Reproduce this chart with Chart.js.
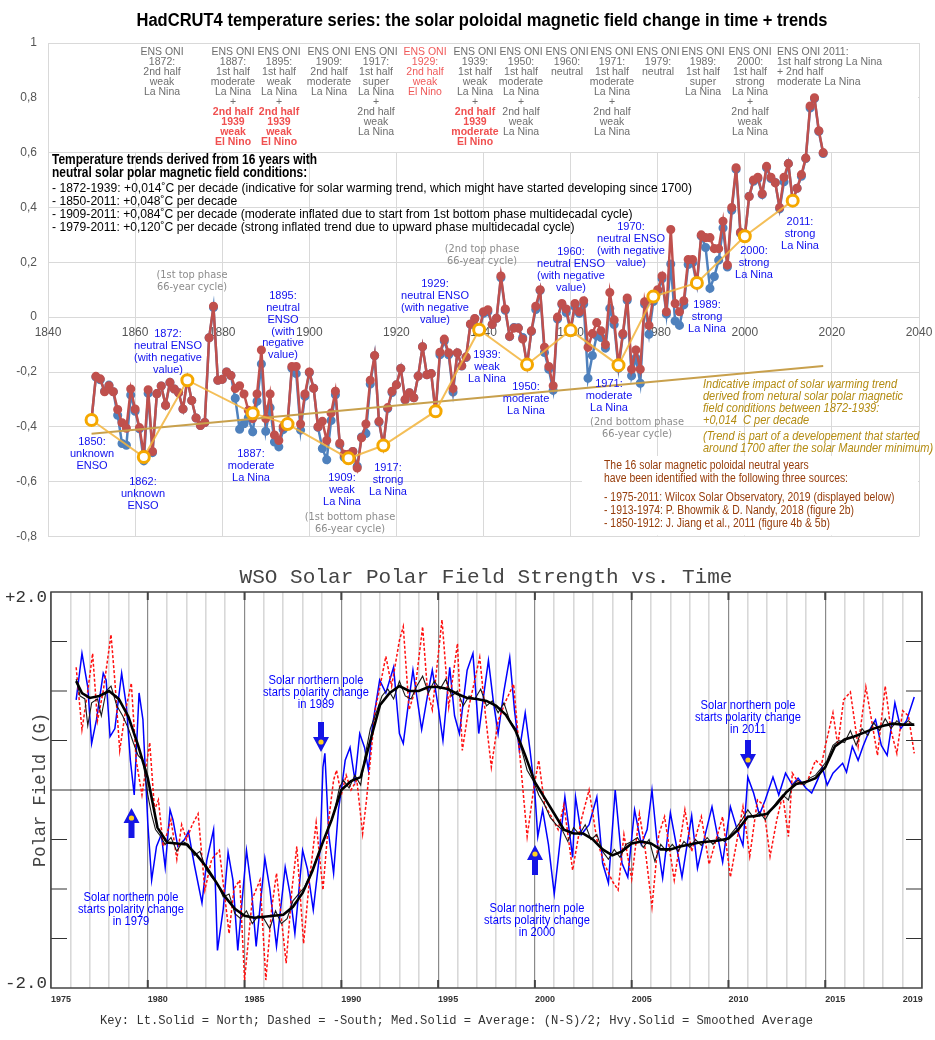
<!DOCTYPE html>
<html>
<head>
<meta charset="utf-8">
<script src="https://cdn.jsdelivr.net/npm/chart.js@4.4.0/dist/chart.umd.min.js"></script>
<style>
html, body { margin: 0; padding: 0; background: #fff; }
canvas { position: absolute; left: 0; }
</style>
</head>
<body>
<canvas id="topChart" width="935" height="545" style="top:0"></canvas>
<canvas id="wsoChart" width="935" height="495" style="top:545px"></canvas>
<script>
// ---- HadCRUT4 annual anomalies (top chart) ----
const years = Array.from({ length: 169 }, (_, i) => 1850 + i);

// blue series (drawn underneath)
const blueVals = [
  -0.373, -0.218, -0.228, -0.269, -0.248, -0.272, -0.358, -0.461, -0.467, -0.284,
  -0.343, -0.407, -0.524, -0.278, -0.494, -0.279, -0.251, -0.321, -0.238, -0.262,
  -0.276, -0.335, -0.227, -0.304, -0.368, -0.395, -0.384, -0.075, 0.035, -0.230,
  -0.227, -0.200, -0.213, -0.296, -0.409, -0.389, -0.367, -0.418, -0.307, -0.171,
  -0.416, -0.330, -0.455, -0.473, -0.410, -0.390, -0.186, -0.206, -0.412, -0.289,
  -0.203, -0.259, -0.402, -0.479, -0.520, -0.377, -0.283, -0.465, -0.511, -0.522,
  -0.490, -0.544, -0.437, -0.424, -0.244, -0.141, -0.383, -0.468, -0.333, -0.275,
  -0.247, -0.187, -0.302, -0.276, -0.294, -0.215, -0.108, -0.210, -0.206, -0.350,
  -0.137, -0.087, -0.137, -0.273, -0.131, -0.178, -0.147, -0.026, -0.006, -0.052,
  0.014, 0.020, -0.027, -0.004, 0.144, 0.025, -0.071, -0.038, -0.039, -0.074,
  -0.173, -0.052, 0.028, 0.097, -0.129, -0.190, -0.267, -0.007, 0.046, 0.017,
  -0.049, 0.038, 0.014, 0.048, -0.223, -0.140, -0.068, -0.074, -0.113, 0.032,
  -0.027, -0.186, -0.065, 0.062, -0.214, -0.149, -0.241, 0.047, -0.062, 0.057,
  0.092, 0.140, 0.011, 0.194, -0.014, -0.030, 0.045, 0.192, 0.198, 0.118,
  0.296, 0.254, 0.105, 0.148, 0.208, 0.325, 0.183, 0.390, 0.539, 0.306,
  0.294, 0.441, 0.496, 0.505, 0.447, 0.545, 0.506, 0.491, 0.395, 0.494,
  0.560, 0.425, 0.470, 0.514, 0.579, 0.763, 0.797, 0.677, 0.597
];

// red series (drawn on top)
const redVals = [
  -0.373, -0.216, -0.225, -0.272, -0.250, -0.272, -0.337, -0.385, -0.405, -0.262,
  -0.335, -0.403, -0.500, -0.265, -0.490, -0.279, -0.251, -0.321, -0.238, -0.262,
  -0.276, -0.335, -0.227, -0.304, -0.368, -0.395, -0.384, -0.075, 0.040, -0.230,
  -0.227, -0.200, -0.213, -0.260, -0.250, -0.280, -0.340, -0.370, -0.280, -0.120,
  -0.370, -0.280, -0.430, -0.450, -0.400, -0.390, -0.180, -0.180, -0.390, -0.280,
  -0.200, -0.259, -0.400, -0.380, -0.450, -0.350, -0.270, -0.460, -0.500, -0.500,
  -0.490, -0.550, -0.440, -0.390, -0.230, -0.140, -0.380, -0.468, -0.330, -0.270,
  -0.247, -0.187, -0.300, -0.276, -0.294, -0.215, -0.108, -0.210, -0.206, -0.345,
  -0.128, -0.080, -0.130, -0.260, -0.130, -0.177, -0.145, -0.025, -0.005, -0.046,
  0.020, 0.027, -0.027, -0.004, 0.150, 0.030, -0.070, -0.040, -0.040, -0.080,
  -0.173, -0.050, 0.040, 0.100, -0.110, -0.180, -0.250, 0.000, 0.050, 0.030,
  -0.045, 0.050, 0.020, 0.060, -0.110, -0.060, -0.020, -0.050, -0.100, 0.090,
  -0.010, -0.175, -0.060, 0.070, -0.190, -0.120, -0.190, 0.056, -0.030, 0.076,
  0.100, 0.150, 0.020, 0.320, 0.050, 0.020, 0.060, 0.210, 0.210, 0.125,
  0.300, 0.290, 0.290, 0.250, 0.250, 0.350, 0.190, 0.400, 0.545, 0.310,
  0.295, 0.440, 0.500, 0.510, 0.450, 0.550, 0.510, 0.490, 0.400, 0.510,
  0.560, 0.425, 0.470, 0.520, 0.580, 0.770, 0.800, 0.680, 0.600
];

// 16 neutral solar polar field years
const neutralYears = [1850, 1862, 1872, 1887, 1895, 1909, 1917, 1929, 1939, 1950, 1960, 1971, 1979, 1989, 2000, 2011];
const neutralVals = [-0.375, -0.51, -0.23, -0.35, -0.39, -0.515, -0.468, -0.343, -0.046, -0.173, -0.048, -0.175, 0.075, 0.125, 0.295, 0.425];

// solar warming trend line (1872-1939 slope extended)
const trendYears = [1850, 2018];
const trendVals = [-0.425, -0.178];

// ---- WSO polar field (bottom chart), [year, gauss] ----
const northField = [
  [1976.3,0.91],[1976.6,1.38],[1976.9,1.04],[1977.1,0.47],[1977.35,0.71],[1977.7,1.18],[1977.85,1.11],[1978.05,0.54],
  [1978.3,0.62],[1978.65,1.18],[1978.9,0.84],[1979.1,0.30],[1979.3,-0.05],[1979.55,0.98],[1979.75,0.71],[1980.0,-0.33],
  [1980.2,-0.91],[1980.45,-0.57],[1980.7,-0.45],[1980.9,-0.78],[1981.15,-0.20],[1981.3,-0.30],[1981.55,-0.57],[1981.9,-0.50],
  [1982.1,-0.42],[1982.4,-0.75],[1982.8,-1.14],[1983.05,-0.71],[1983.4,-0.40],[1983.6,-1.62],[1983.9,-1.20],[1984.15,-0.63],
  [1984.4,-0.91],[1984.65,-1.62],[1985.1,-0.61],[1985.35,-0.99],[1985.6,-1.58],[1986.05,-0.69],[1986.3,-0.99],[1986.65,-1.58],
  [1987.1,-0.78],[1987.35,-1.05],[1987.6,-1.45],[1988.0,-0.61],[1988.25,-0.80],[1988.55,-1.21],[1988.9,-0.61],[1989.05,0.23],
  [1989.15,0.37],[1989.35,-0.45],[1989.6,-0.84],[1989.85,-0.20],[1990.0,0.00],[1990.2,0.30],[1990.45,0.43],[1990.7,0.10],
  [1990.95,0.57],[1991.2,0.43],[1991.4,0.20],[1991.6,0.64],[1991.98,1.11],[1992.3,0.98],[1992.7,1.24],[1993.0,0.57],
  [1993.2,0.47],[1993.45,0.85],[1993.7,1.21],[1994.15,0.61],[1994.45,0.95],[1994.7,1.21],[1995.0,0.85],[1995.25,0.50],
  [1995.6,1.24],[1995.85,0.75],[1996.1,0.57],[1996.5,1.21],[1996.8,1.38],[1997.1,0.57],[1997.35,0.95],[1997.6,1.31],
  [1997.85,0.90],[1998.1,0.57],[1998.4,1.00],[1998.7,1.34],[1998.95,0.80],[1999.2,0.40],[1999.5,0.78],[1999.75,0.40],
  [2000.0,-0.03],[2000.15,-0.47],[2000.4,-0.20],[2000.7,-0.55],[2001.0,-1.05],[2001.2,-0.70],[2001.55,-0.07],[2001.95,-0.68],
  [2002.1,-0.07],[2002.4,-0.45],[2002.8,-0.35],[2003.2,-0.07],[2003.5,-0.74],[2003.8,-0.94],[2004.15,0.00],[2004.5,-0.74],
  [2004.8,-0.88],[2005.15,-0.20],[2005.5,-0.55],[2005.8,-0.40],[2006.05,0.00],[2006.3,-0.50],[2006.6,-0.89],[2007.0,-0.23],
  [2007.3,-0.55],[2007.6,-0.88],[2008.1,-0.26],[2008.4,-0.79],[2008.8,-0.45],[2009.15,-0.17],[2009.7,-0.73],[2010.1,-0.17],
  [2010.45,-0.40],[2010.75,-0.56],[2011.0,0.13],[2011.3,-0.03],[2011.6,-0.25],[2011.9,-0.10],[2012.3,0.13],[2012.6,-0.05],
  [2012.95,0.17],[2013.3,0.05],[2013.6,0.12],[2014.0,0.02],[2014.3,-0.03],[2014.6,0.10],[2014.85,0.23],[2015.1,0.05],
  [2015.4,0.17],[2015.9,0.27],[2016.1,0.18],[2016.4,0.44],[2016.7,0.30],[2016.95,0.44],[2017.3,0.61],[2017.6,0.71],
  [2017.9,0.45],[2018.2,0.35],[2018.6,0.88],[2018.9,0.62],[2019.2,0.70],[2019.6,0.94]
];

const minusSouthField = [
  [1976.3,1.24],[1976.6,0.61],[1976.9,1.00],[1977.15,1.38],[1977.4,0.70],[1977.7,1.00],[1978.1,1.57],[1978.3,1.10],
  [1978.55,0.40],[1978.85,0.80],[1979.15,1.08],[1979.4,0.30],[1979.7,-0.05],[1980.1,0.48],[1980.35,-0.20],[1980.55,-0.10],
  [1980.8,-0.57],[1981.2,-0.30],[1981.5,-0.70],[1981.75,-0.35],[1982.0,-0.50],[1982.3,-0.35],[1982.6,-0.24],[1982.95,-1.01],
  [1983.3,-0.70],[1983.7,-0.61],[1984.2,-1.45],[1984.45,-1.00],[1984.75,-0.91],[1985.0,-1.92],[1985.4,-1.10],[1985.8,-0.91],
  [1986.1,-1.92],[1986.4,-1.20],[1986.65,-0.84],[1987.15,-1.75],[1987.45,-1.00],[1987.7,-0.57],[1988.05,-1.55],[1988.35,-0.91],
  [1988.7,-0.33],[1989.05,-1.01],[1989.35,-0.30],[1989.6,0.10],[1989.75,0.20],[1990.0,-0.05],[1990.25,0.15],[1990.5,0.00],
  [1990.8,0.10],[1991.1,-0.44],[1991.3,-0.10],[1991.75,0.81],[1992.0,1.05],[1992.3,1.35],[1992.6,1.05],[1993.0,1.51],
  [1993.2,1.65],[1993.5,0.81],[1993.8,1.00],[1994.2,1.65],[1994.45,1.00],[1994.7,0.81],[1995.2,1.72],[1995.55,0.84],
  [1996.0,1.48],[1996.25,0.40],[1996.6,0.85],[1997.15,1.34],[1997.45,0.75],[1997.75,0.23],[1998.1,0.70],[1998.5,0.90],
  [1998.9,1.07],[1999.2,0.40],[1999.6,-0.47],[1999.95,0.03],[2000.2,0.30],[2000.5,-0.15],[2000.8,-0.25],[2001.2,-0.40],
  [2001.5,-0.15],[2001.95,-0.81],[2002.4,-0.30],[2002.8,0.00],[2003.2,-0.50],[2003.6,-0.75],[2004.0,-0.92],[2004.3,-1.01],
  [2004.6,-0.45],[2005.0,-0.90],[2005.4,-0.24],[2005.7,-0.60],[2006.05,-1.18],[2006.4,-0.45],[2006.7,-0.27],[2007.2,-0.91],
  [2007.75,-0.20],[2008.1,-0.62],[2008.6,-0.27],[2009.0,-0.75],[2009.7,-0.27],[2010.1,-0.88],[2010.75,-0.17],[2011.1,-0.67],
  [2011.5,-0.10],[2011.8,-0.15],[2012.15,-0.67],[2012.5,-0.30],[2012.8,-0.05],[2013.1,-0.47],[2013.3,0.17],[2013.7,0.05],
  [2014.1,0.10],[2014.5,0.30],[2014.8,0.25],[2015.0,0.44],[2015.4,0.78],[2015.65,0.45],[2015.95,0.91],[2016.3,0.99],
  [2016.7,0.44],[2017.1,1.04],[2017.4,0.70],[2017.7,0.35],[2018.1,1.05],[2018.4,0.60],[2018.7,0.37],[2019.0,0.80],
  [2019.3,0.75],[2019.6,0.37]
];

const averageField = [
  [1976.3,1.12],[1976.5,0.95],[1976.75,0.92],[1976.9,0.65],[1977.1,0.88],[1977.4,0.92],[1977.6,0.75],[1977.85,1.00],
  [1978.1,1.05],[1978.4,0.85],[1978.7,0.75],[1979.0,0.62],[1979.25,0.48],[1979.5,0.35],[1979.75,0.30],[1980.0,-0.05],
  [1980.2,-0.25],[1980.4,-0.40],[1980.6,-0.45],[1980.9,-0.55],[1981.2,-0.48],[1981.5,-0.62],[1981.8,-0.52],[1982.1,-0.55],
  [1982.4,-0.66],[1982.7,-0.62],[1983.0,-0.80],[1983.3,-0.88],[1983.6,-0.95],[1983.9,-1.08],[1984.2,-1.05],[1984.5,-1.25],
  [1984.8,-1.30],[1985.1,-1.22],[1985.4,-1.35],[1985.7,-1.27],[1986.0,-1.30],[1986.3,-1.40],[1986.6,-1.22],[1986.9,-1.35],
  [1987.2,-1.30],[1987.5,-1.12],[1987.8,-1.05],[1988.1,-0.98],[1988.4,-0.85],[1988.7,-0.70],[1989.0,-0.55],[1989.3,-0.40],
  [1989.6,-0.25],[1989.9,0.02],[1990.1,0.10],[1990.4,0.02],[1990.7,0.15],[1991.0,0.05],[1991.2,0.32],[1991.5,0.62],
  [1991.8,0.78],[1992.1,0.95],[1992.4,1.02],[1992.7,0.92],[1993.0,1.10],[1993.3,0.95],[1993.6,0.92],[1993.9,1.05],
  [1994.2,1.15],[1994.5,0.98],[1994.8,1.10],[1995.1,1.02],[1995.4,1.12],[1995.7,0.95],[1996.0,1.00],[1996.3,0.85],
  [1996.6,0.95],[1996.9,0.92],[1997.2,1.02],[1997.5,0.85],[1997.8,0.90],[1998.1,0.78],[1998.4,0.88],[1998.7,0.70],
  [1999.0,0.62],[1999.3,0.42],[1999.6,0.20],[1999.9,0.10],[2000.2,-0.05],[2000.5,-0.15],[2000.8,-0.28],[2001.1,-0.35],
  [2001.4,-0.40],[2001.7,-0.52],[2002.0,-0.38],[2002.3,-0.45],[2002.6,-0.35],[2002.9,-0.50],[2003.2,-0.45],[2003.5,-0.62],
  [2003.8,-0.70],[2004.1,-0.60],[2004.4,-0.68],[2004.7,-0.55],[2005.0,-0.52],[2005.3,-0.48],[2005.6,-0.58],[2005.9,-0.50],
  [2006.2,-0.72],[2006.5,-0.55],[2006.8,-0.62],[2007.1,-0.55],[2007.4,-0.62],[2007.7,-0.52],[2008.0,-0.58],[2008.3,-0.50],
  [2008.6,-0.56],[2008.9,-0.48],[2009.2,-0.55],[2009.5,-0.48],[2009.8,-0.52],[2010.1,-0.45],[2010.4,-0.38],[2010.7,-0.30],
  [2011.0,-0.20],[2011.3,-0.28],[2011.6,-0.22],[2011.9,-0.30],[2012.2,-0.20],[2012.5,-0.12],[2012.8,-0.05],[2013.1,-0.10],
  [2013.3,0.05],[2013.6,0.10],[2013.9,0.05],[2014.2,0.12],[2014.5,0.15],[2014.8,0.22],[2015.1,0.30],[2015.4,0.45],
  [2015.7,0.50],[2016.0,0.48],[2016.3,0.60],[2016.6,0.45],[2016.9,0.62],[2017.2,0.55],[2017.5,0.68],[2017.8,0.60],
  [2018.1,0.72],[2018.4,0.62],[2018.7,0.70],[2019.0,0.65],[2019.3,0.70],[2019.6,0.65]
];

const smoothedField = [
  [1976.3,1.10],[1976.6,0.98],[1977.0,0.93],[1977.5,0.95],[1978.0,1.00],[1978.5,0.92],[1979.0,0.74],[1979.5,0.45],
  [1980.0,0.12],[1980.5,-0.38],[1981.0,-0.53],[1981.5,-0.54],[1982.0,-0.55],[1982.5,-0.65],[1983.0,-0.77],[1983.5,-0.92],
  [1984.0,-1.08],[1984.5,-1.20],[1985.0,-1.27],[1985.5,-1.29],[1986.0,-1.28],[1986.5,-1.27],[1987.0,-1.26],[1987.5,-1.18],
  [1988.0,-1.04],[1988.5,-0.82],[1989.0,-0.55],[1989.5,-0.30],[1990.0,0.00],[1990.5,0.09],[1991.0,0.13],[1991.5,0.50],
  [1992.0,0.86],[1992.5,0.98],[1993.0,1.05],[1993.5,1.00],[1994.0,1.00],[1994.5,1.04],[1995.0,1.04],[1995.5,1.02],
  [1996.0,0.97],[1996.5,0.93],[1997.0,0.92],[1997.5,0.90],[1998.0,0.85],[1998.5,0.76],[1999.0,0.60],[1999.5,0.35],
  [2000.0,0.08],[2000.5,-0.08],[2001.0,-0.24],[2001.5,-0.40],[2002.0,-0.44],[2002.5,-0.44],[2003.0,-0.50],[2003.5,-0.60],
  [2004.0,-0.66],[2004.5,-0.62],[2005.0,-0.54],[2005.5,-0.52],[2006.0,-0.54],[2006.5,-0.60],[2007.0,-0.60],[2007.5,-0.57],
  [2008.0,-0.55],[2008.5,-0.53],[2009.0,-0.52],[2009.5,-0.51],[2010.0,-0.49],[2010.5,-0.40],[2011.0,-0.27],[2011.5,-0.26],
  [2012.0,-0.24],[2012.5,-0.14],[2013.0,-0.02],[2013.5,0.06],[2014.0,0.08],[2014.5,0.12],[2015.0,0.23],[2015.5,0.44],
  [2016.0,0.51],[2016.5,0.54],[2017.0,0.58],[2017.5,0.62],[2018.0,0.65],[2018.5,0.67],[2019.0,0.66],[2019.6,0.66]
];

const wsoTickYears = [1975, 1980, 1985, 1990, 1995, 2000, 2005, 2010, 2015, 2019];

Chart.defaults.font.family = '"Liberation Sans", Arial, sans-serif';

// draw a block of lines, squeezed horizontally by sx
function drawLines(ctx, lines, x, y, lh, font, color, align, sx) {
  ctx.save();
  ctx.font = font;
  ctx.fillStyle = color;
  ctx.textAlign = align || 'left';
  ctx.textBaseline = 'middle';
  lines.forEach((s, i) => {
    ctx.save();
    ctx.translate(x, y + i * lh);
    ctx.scale(sx || 1, 1);
    ctx.fillText(s, 0, 0);
    ctx.restore();
  });
  ctx.restore();
}

function fitScale(ctx, font, s, w) {
  ctx.save();
  ctx.font = font;
  const m = ctx.measureText(s).width;
  ctx.restore();
  return w / m;
}

const ensCols = [
  { x: 162, c: 'g', lines: ['ENS ONI', '1872:', '2nd half', 'weak', 'La Nina'], red: [] },
  { x: 233, c: 'g', lines: ['ENS ONI', '1887:', '1st half', 'moderate', 'La Nina', '+'], red: ['2nd half', '1939', 'weak', 'El Nino'] },
  { x: 279, c: 'g', lines: ['ENS ONI', '1895:', '1st half', 'weak', 'La Nina', '+'], red: ['2nd half', '1939', 'weak', 'El Nino'] },
  { x: 329, c: 'g', lines: ['ENS ONI', '1909:', '2nd half', 'moderate', 'La Nina'], red: [] },
  { x: 376, c: 'g', lines: ['ENS ONI', '1917:', '1st half', 'super', 'La Nina', '+', '2nd half', 'weak', 'La Nina'], red: [] },
  { x: 425, c: 'r', lines: ['ENS ONI', '1929:', '2nd half', 'weak', 'El Nino'], red: [] },
  { x: 475, c: 'g', lines: ['ENS ONI', '1939:', '1st half', 'weak', 'La Nina', '+'], red: ['2nd half', '1939', 'moderate', 'El Nino'] },
  { x: 521, c: 'g', lines: ['ENS ONI', '1950:', '1st half', 'moderate', 'La Nina', '+', '2nd half', 'weak', 'La Nina'], red: [] },
  { x: 567, c: 'g', lines: ['ENS ONI', '1960:', 'neutral'], red: [] },
  { x: 612, c: 'g', lines: ['ENS ONI', '1971:', '1st half', 'moderate', 'La Nina', '+', '2nd half', 'weak', 'La Nina'], red: [] },
  { x: 658, c: 'g', lines: ['ENS ONI', '1979:', 'neutral'], red: [] },
  { x: 703, c: 'g', lines: ['ENS ONI', '1989:', '1st half', 'super', 'La Nina'], red: [] },
  { x: 750, c: 'g', lines: ['ENS ONI', '2000:', '1st half', 'strong', 'La Nina', '+', '2nd half', 'weak', 'La Nina'], red: [] }
];

const blueLabels = [
  [92, 442, ['1850:', 'unknown', 'ENSO']],
  [143, 482, ['1862:', 'unknown', 'ENSO']],
  [168, 334, ['1872:', 'neutral ENSO', '(with negative', 'value)']],
  [251, 454, ['1887:', 'moderate', 'La Nina']],
  [283, 296, ['1895:', 'neutral', 'ENSO', '(with', 'negative', 'value)']],
  [342, 478, ['1909:', 'weak', 'La Nina']],
  [388, 468, ['1917:', 'strong', 'La Nina']],
  [435, 284, ['1929:', 'neutral ENSO', '(with negative', 'value)']],
  [487, 355, ['1939:', 'weak', 'La Nina']],
  [526, 387, ['1950:', 'moderate', 'La Nina']],
  [571, 252, ['1960:', 'neutral ENSO', '(with negative', 'value)']],
  [631, 227, ['1970:', 'neutral ENSO', '(with negative', 'value)']],
  [609, 384, ['1971:', 'moderate', 'La Nina']],
  [707, 305, ['1989:', 'strong', 'La Nina']],
  [754, 251, ['2000:', 'strong', 'La Nina']],
  [800, 222, ['2011:', 'strong', 'La Nina']]
];

const grayLabels = [
  [192, 275, ['(1st top phase', '66-year cycle)']],
  [482, 249, ['(2nd top phase', '66-year cycle)']],
  [350, 517, ['(1st bottom phase', '66-year cycle)']],
  [637, 422, ['(2nd bottom phase', '66-year cycle)']]
];

const topDecor = {
  id: 'topDecor',
  beforeDatasetsDraw(chart) {
    const ctx = chart.ctx, a = chart.chartArea;
    ctx.save();
    ctx.fillStyle = '#fff';
    ctx.fillRect(a.left + 1, a.top + 1, a.right - a.left - 2, 108);
    ctx.fillRect(582, 456, a.right - 1 - 582, a.bottom - 1 - 456);
    ctx.restore();
  },
  afterDatasetsDraw(chart) {
    const ctx = chart.ctx;

    // ENSO ONI columns
    const gFont = '10.5px "Liberation Sans", Arial, sans-serif';
    const rFont = 'bold 10.5px "Liberation Sans", Arial, sans-serif';
    ensCols.forEach(col => {
      const color = col.c === 'r' ? '#f05a5a' : '#6e6e6e';
      drawLines(ctx, col.lines, col.x, 52, 10, gFont, color, 'center');
      drawLines(ctx, col.red, col.x, 52 + col.lines.length * 10, 10, rFont, '#f05050', 'center');
    });
    drawLines(ctx, ['ENS ONI 2011:', '1st half strong La Nina', '+ 2nd half', 'moderate La Nina'], 777, 52, 10, gFont, '#6e6e6e', 'left');

    // trend box
    const bFont = 'bold 14px "Liberation Sans", Arial, sans-serif';
    const bsx = fitScale(ctx, bFont, 'Temperature trends derived from 16 years with', 265);
    drawLines(ctx, ['Temperature trends derived from 16 years with', 'neutral solar polar magnetic field conditions:'], 52, 160, 13, bFont, '#000', 'left', bsx);
    const tFont = '13px "Liberation Sans", Arial, sans-serif';
    const trendLines = [
      '- 1872-1939: +0,014˚C per decade (indicative for solar warming trend, which might have started developing since 1700)',
      '- 1850-2011: +0,048˚C per decade',
      '- 1909-2011: +0,084˚C per decade (moderate inflated due to start from 1st bottom phase multidecadal cycle)',
      '- 1979-2011: +0,120˚C per decade (strong inflated trend due to upward phase multidecadal cycle)'
    ];
    const tsx = fitScale(ctx, tFont, trendLines[0], 640);
    drawLines(ctx, trendLines, 52, 188, 13, tFont, '#000', 'left', tsx);

    // blue ENSO labels
    const lFont = '11.5px "Liberation Sans", Arial, sans-serif';
    const lsx = fitScale(ctx, lFont, 'neutral ENSO', 68);
    blueLabels.forEach(([x, y, lines]) => drawLines(ctx, lines, x, y, 11.8, lFont, '#1010ee', 'center', lsx));

    // gray cycle labels
    const gyFont = '11px "DejaVu Sans", sans-serif';
    const gsx = fitScale(ctx, gyFont, '(1st top phase', 71);
    grayLabels.forEach(([x, y, lines]) => drawLines(ctx, lines, x, y, 12.5, gyFont, '#8c8c8c', 'center', gsx));

    // goldenrod italic note
    const iFont = 'italic 12.5px "Liberation Sans", Arial, sans-serif';
    const isx = fitScale(ctx, iFont, 'Indicative impact of solar warming trend', 194);
    drawLines(ctx, ['Indicative impact of solar warming trend', 'derived from netural solar polar magnetic',
      'field conditions between 1872-1939:', '+0,014  C per decade'], 703, 385, 12, iFont, '#b38b12', 'left', isx);
    drawLines(ctx, ['(Trend is part of a developement that started', 'around 1700 after the solar Maunder minimum)'],
      703, 437, 11.5, iFont, '#b38b12', 'left', isx);

    // brown sources note
    const sFont = '12px "Liberation Sans", Arial, sans-serif';
    const ssx = fitScale(ctx, sFont, 'have been identified with the following three sources:', 244);
    drawLines(ctx, ['The 16 solar magnetic poloidal neutral years', 'have been identified with the following three sources:'],
      604, 466, 13, sFont, '#963c0a', 'left', ssx);
    drawLines(ctx, ['- 1975-2011: Wilcox Solar Observatory, 2019 (displayed below)', '- 1913-1974: P. Bhowmik & D. Nandy, 2018 (figure 2b)',
      '- 1850-1912: J. Jiang et al., 2011 (figure 4b & 5b)'], 604, 498, 13, sFont, '#963c0a', 'left', ssx);
  },
  afterDraw(chart) {
    const ctx = chart.ctx;
    const f = 'bold 18px "Liberation Sans", Arial, sans-serif';
    const title = 'HadCRUT4 temperature series: the solar poloidal magnetic field change in time + trends';
    drawLines(ctx, [title], 482, 21, 0, f, '#000', 'center', fitScale(ctx, f, title, 691));
  }
};

new Chart(document.getElementById('topChart'), {
  type: 'line',
  data: {
    datasets: [
      {
        data: neutralYears.map((x, i) => ({ x, y: neutralVals[i] })),
        borderColor: 'rgba(242,180,60,0.85)', borderWidth: 2,
        pointRadius: 5.5, pointBorderWidth: 3, pointBorderColor: '#f5a800', pointBackgroundColor: '#fff',
        order: 0
      },
      {
        data: trendYears.map((x, i) => ({ x, y: trendVals[i] })),
        borderColor: '#c8a04c', borderWidth: 2, pointRadius: 0, order: 1
      },
      {
        data: years.map((x, i) => ({ x, y: redVals[i] })),
        borderColor: '#c0504d', backgroundColor: '#c0504d', pointBackgroundColor: '#c0504d', pointBorderColor: '#c0504d',
        borderWidth: 2.5, pointRadius: 3.3, order: 2
      },
      {
        data: years.map((x, i) => ({ x, y: blueVals[i] })),
        borderColor: '#4f81bd', backgroundColor: '#4f81bd', pointBackgroundColor: '#4f81bd', pointBorderColor: '#4f81bd',
        borderWidth: 2.5, pointRadius: 3.3, order: 3
      }
    ]
  },
  options: {
    responsive: false,
    animation: false,
    layout: { padding: { left: 0, right: 16, top: 43, bottom: 7 } },
    plugins: { legend: { display: false }, tooltip: { enabled: false } },
    scales: {
      x: {
        type: 'linear', min: 1840, max: 2040, position: { y: 0 },
        ticks: { stepSize: 20, padding: 8, color: '#555', font: { size: 12 }, maxRotation: 0, callback: v => String(v) },
        grid: { color: '#d9d9d9', drawTicks: false },
        border: { display: false },
        afterFit: s => { s.height = 0; s.paddingLeft = 0; s.paddingRight = 0; }
      },
      y: {
        min: -0.8, max: 1,
        ticks: {
          stepSize: 0.2, padding: 11, color: '#555', font: { size: 12 },
          callback: v => { const r = Math.round(v * 10) / 10; return r === 0 ? '0' : String(r).replace('.', ','); }
        },
        grid: { color: '#d9d9d9', drawTicks: false },
        border: { display: false },
        afterFit: s => { s.width = 48; s.paddingTop = 0; s.paddingBottom = 0; }
      }
    }
  },
  plugins: [topDecor]
});

// ---- bottom chart ----
function arrow(ctx, x, yTip, yTail, yDot) {
  const dir = yTip > yTail ? 1 : -1;
  const headLen = 15, headW = 8, shaft = 3;
  const yBase = yTip - dir * headLen;
  ctx.save();
  ctx.fillStyle = '#1515e6';
  ctx.beginPath();
  ctx.moveTo(x - shaft, yTail);
  ctx.lineTo(x + shaft, yTail);
  ctx.lineTo(x + shaft, yBase);
  ctx.lineTo(x + headW, yBase);
  ctx.lineTo(x, yTip);
  ctx.lineTo(x - headW, yBase);
  ctx.lineTo(x - shaft, yBase);
  ctx.closePath();
  ctx.fill();
  ctx.beginPath();
  ctx.arc(x, yDot, 2.6, 0, Math.PI * 2);
  ctx.fillStyle = '#ffd21e';
  ctx.fill();
  ctx.restore();
}

const wsoDecor = {
  id: 'wsoDecor',
  beforeDatasetsDraw(chart) {
    const ctx = chart.ctx, a = chart.chartArea, xs = chart.scales.x, ys = chart.scales.y;
    ctx.save();
    ctx.strokeStyle = '#333';
    ctx.lineWidth = 1.2;
    const y0 = ys.getPixelForValue(0);
    ctx.beginPath();
    ctx.moveTo(a.left, y0); ctx.lineTo(a.right, y0);
    [-1.5, -1, -0.5, 0.5, 1, 1.5].forEach(v => {
      const y = ys.getPixelForValue(v);
      ctx.moveTo(a.left, y); ctx.lineTo(a.left + 16, y);
      ctx.moveTo(a.right - 16, y); ctx.lineTo(a.right, y);
    });
    ctx.stroke();
    ctx.lineWidth = 2;
    ctx.strokeStyle = '#444';
    ctx.beginPath();
    wsoTickYears.slice(1, -1).forEach(yr => {
      const x = xs.getPixelForValue(yr);
      ctx.moveTo(x, a.top); ctx.lineTo(x, a.top + 8);
      ctx.moveTo(x, a.bottom - 8); ctx.lineTo(x, a.bottom);
    });
    ctx.stroke();
    ctx.restore();
  },
  afterDatasetsDraw(chart) {
    const ctx = chart.ctx, a = chart.chartArea;
    ctx.save();
    ctx.strokeStyle = '#444';
    ctx.lineWidth = 1.5;
    ctx.strokeRect(a.left, a.top, a.right - a.left, a.bottom - a.top);
    ctx.restore();

    arrow(ctx, 321, 207, 177, 197);
    arrow(ctx, 748, 224, 195, 215);
    arrow(ctx, 131.5, 263, 293, 273);
    arrow(ctx, 535, 300, 330, 309);

    const f = '12px "Liberation Sans", Arial, sans-serif';
    const sx = fitScale(ctx, f, 'starts polarity change', 106);
    drawLines(ctx, ['Solar northern pole', 'starts polarity change', 'in 1989'], 316, 136, 12, f, '#0000ff', 'center', sx);
    drawLines(ctx, ['Solar northern pole', 'starts polarity change', 'in 2011'], 748, 161, 11.7, f, '#0000ff', 'center', sx);
    drawLines(ctx, ['Solar northern pole', 'starts polarity change', 'in 1979'], 131, 353, 12, f, '#0000ff', 'center', sx);
    drawLines(ctx, ['Solar northern pole', 'starts polarity change', 'in 2000'], 537, 364, 12, f, '#0000ff', 'center', sx);
  },
  afterDraw(chart) {
    const ctx = chart.ctx, xs = chart.scales.x;
    const mono = '"Liberation Mono", "DejaVu Sans Mono", monospace';
    const tf = '21px ' + mono;
    const title = 'WSO Solar Polar Field Strength vs. Time';
    drawLines(ctx, [title], 486, 32, 0, tf, '#444', 'center', fitScale(ctx, tf, title, 493));

    const lf = '17px ' + mono;
    drawLines(ctx, ['+2.0'], 47, 52, 0, lf, '#333', 'right', fitScale(ctx, lf, '+2.0', 42));
    drawLines(ctx, ['-2.0'], 47, 438, 0, lf, '#333', 'right', fitScale(ctx, lf, '-2.0', 42));

    ctx.save();
    ctx.translate(40, 245);
    ctx.rotate(-Math.PI / 2);
    drawLines(ctx, ['Polar Field (G)'], 0, 0, 0, '18px ' + mono, '#444', 'center', 0.95);
    ctx.restore();

    const xf = 'bold 9px "Liberation Sans", Arial, sans-serif';
    wsoTickYears.forEach(yr => {
      drawLines(ctx, [String(yr)], xs.getPixelForValue(yr), 455, 0, xf, '#333', 'left');
    });

    const kf = '12px ' + mono;
    const key = 'Key: Lt.Solid = North; Dashed = -South; Med.Solid = Average: (N-S)/2; Hvy.Solid = Smoothed Average';
    drawLines(ctx, [key], 100, 476, 0, kf, '#333', 'left', fitScale(ctx, kf, key, 713));
  }
};

const toXY = arr => arr.map(p => ({ x: p[0], y: p[1] }));

new Chart(document.getElementById('wsoChart'), {
  type: 'line',
  data: {
    datasets: [
      { data: toXY(smoothedField), borderColor: '#000', borderWidth: 2.6, pointRadius: 0, order: 0 },
      { data: toXY(averageField), borderColor: '#1a1a1a', borderWidth: 1.1, pointRadius: 0, order: 1 },
      { data: toXY(minusSouthField), borderColor: '#ff1010', borderWidth: 1.5, borderDash: [3, 2], pointRadius: 0, order: 2 },
      { data: toXY(northField), borderColor: '#0000ff', borderWidth: 1.5, pointRadius: 0, order: 3 }
    ]
  },
  options: {
    responsive: false,
    animation: false,
    layout: { padding: { left: 51, right: 13, top: 47, bottom: 52 } },
    plugins: { legend: { display: false }, tooltip: { enabled: false } },
    scales: {
      x: {
        type: 'linear', min: 1975, max: 2020,
        afterBuildTicks: s => { s.ticks = []; for (let yr = 1975; yr <= 2020; yr++) s.ticks.push({ value: yr }); },
        ticks: { display: false },
        grid: {
          drawTicks: false,
          color: c => (c.tick && c.tick.value % 5 === 0) ? '#8a8a8a' : '#d8d8d8',
          lineWidth: c => (c.tick && c.tick.value % 5 === 0) ? 1.2 : 1.6
        },
        border: { display: false },
        afterFit: s => { s.height = 0; }
      },
      y: {
        min: -2, max: 2,
        ticks: { display: false },
        grid: { display: false, drawTicks: false },
        border: { display: false },
        afterFit: s => { s.width = 0; }
      }
    }
  },
  plugins: [wsoDecor]
});
</script>
</body>
</html>
